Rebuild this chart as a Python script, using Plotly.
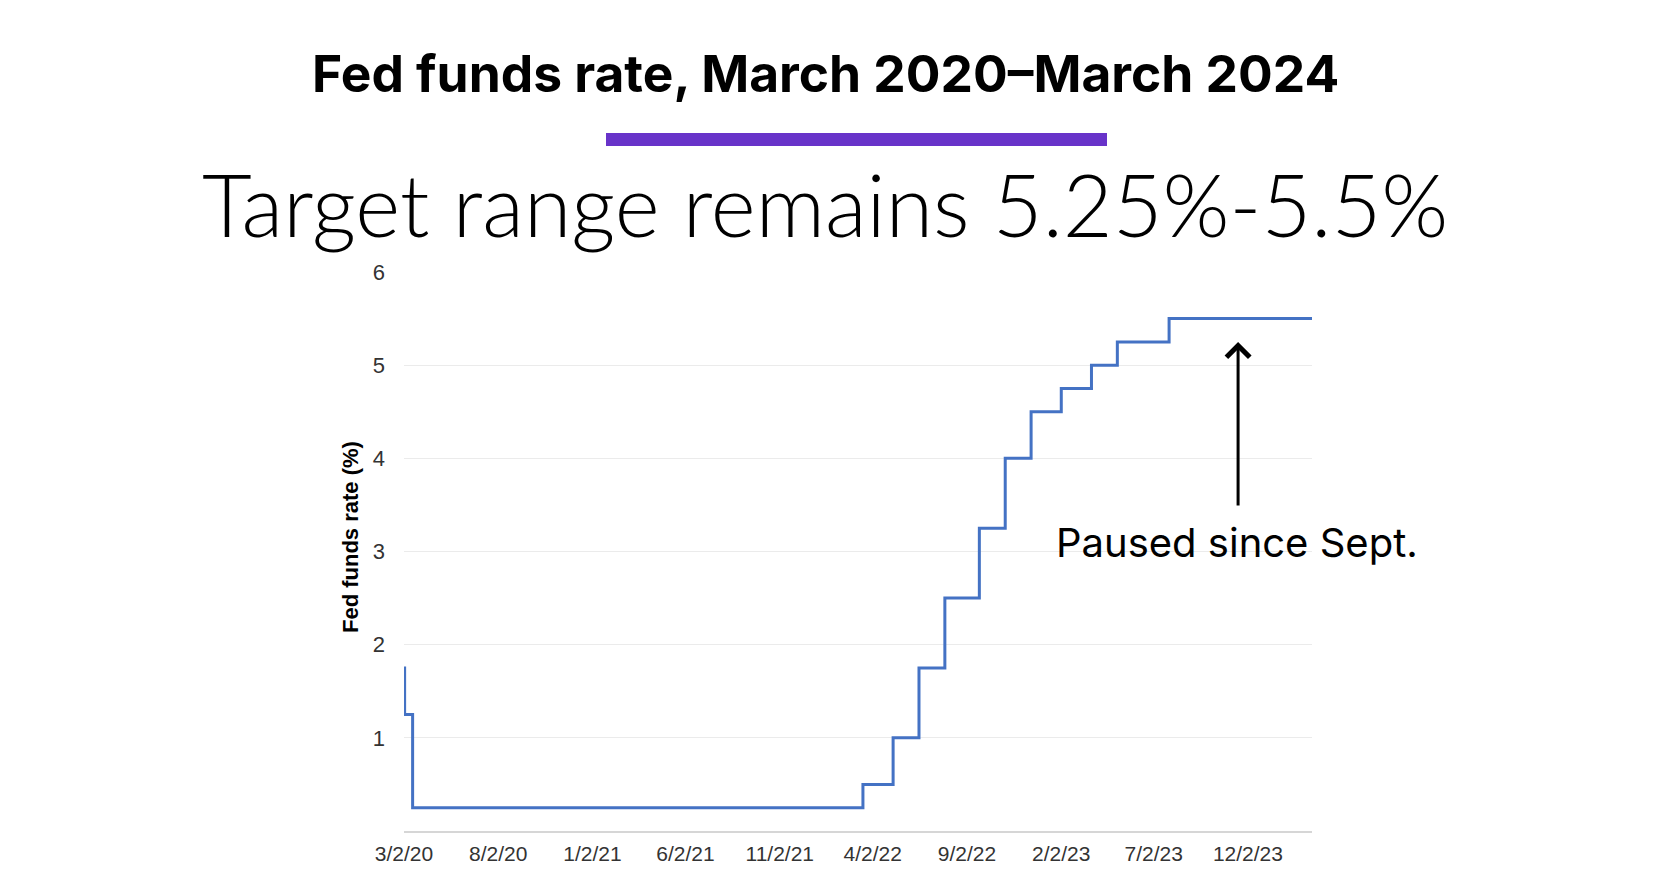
import plotly.graph_objects as go

# Data: Fed funds target range upper bound (%), step changes
dates = ["2020-03-02", "2020-03-03", "2020-03-16", "2022-03-17", "2022-05-05",
         "2022-06-16", "2022-07-28", "2022-09-22", "2022-11-03", "2022-12-15",
         "2023-02-02", "2023-03-23", "2023-05-04", "2023-07-27", "2024-03-15"]
rates = [1.75, 1.25, 0.25, 0.5, 1.0, 1.75, 2.5, 3.25, 4.0, 4.5, 4.75, 5.0, 5.25, 5.5, 5.5]

tick_dates = ["2020-03-02", "2020-08-02", "2021-01-02", "2021-06-02", "2021-11-02",
              "2022-04-02", "2022-09-02", "2023-02-02", "2023-07-02", "2023-12-02"]
tick_labels = ["3/2/20", "8/2/20", "1/2/21", "6/2/21", "11/2/21",
               "4/2/22", "9/2/22", "2/2/23", "7/2/23", "12/2/23"]
y_ticks = [1, 2, 3, 4, 5, 6]

OFF = 8  # browser body margin
W, H = 1668 - 2 * OFF, 872 - 2 * OFF
# plot area in page pixels
L, R, T, B = 404, 1312, 272, 831


def px(x):
    return (x - L) / (R - L)


def py(y):
    return (B - y) / (B - T)


fig = go.Figure()
fig.add_trace(go.Scatter(
    x=dates, y=rates, mode="lines", line=dict(shape="hv", color="#4472C4", width=3),
    hoverinfo="skip", showlegend=False,
))

fig.update_layout(
    width=W, height=H,
    margin=dict(l=L - OFF, r=(1668 - OFF) - R, t=T - OFF, b=(872 - OFF) - B),
    paper_bgcolor="white", plot_bgcolor="white",
    font=dict(family="Liberation Sans, Arial, sans-serif", color="#222222"),
    xaxis=dict(
        range=["2020-03-02", "2024-03-15"], tickvals=tick_dates, ticktext=tick_labels,
        showgrid=False, showline=True, linecolor="#d6d6d6", linewidth=1.5,
        ticks="", ticklabelstandoff=3, tickfont=dict(size=21, color="#333333"),
        zeroline=False, automargin=False,
    ),
    yaxis=dict(
        range=[0, 6], tickvals=y_ticks, showgrid=True, gridcolor="#ebebeb", gridwidth=1,
        ticks="", ticklabelstandoff=18, tickfont=dict(size=22, color="#333333"),
        zeroline=False, showline=False, automargin=False,
    ),
    shapes=[dict(type="rect", xref="paper", yref="paper",
                 x0=px(606), x1=px(1107), y0=py(146), y1=py(133),
                 fillcolor="#6833C9", line=dict(width=0))],
    annotations=[
        dict(text="<b>Fed funds rate, March 2020–March 2024</b>", xref="paper", yref="paper",
             x=px(825), y=py(73), xanchor="center", yanchor="middle", showarrow=False,
             font=dict(family="Inter, sans-serif", size=51.5, color="#000000")),
        dict(text="Target range remains 5.25%-5.5%", xref="paper", yref="paper",
             x=px(825), y=py(203), xanchor="center", yanchor="middle", showarrow=False,
             font=dict(family="Lato, sans-serif", size=86, color="#000000", weight=300)),
        dict(text="<b>Fed funds rate (%)</b>", xref="paper", yref="paper",
             x=px(350), y=py(537), xanchor="center", yanchor="middle", showarrow=False,
             textangle=-90, font=dict(size=22, color="#000000")),
        dict(text="", x="2023-11-16", y=5.25, xref="x", yref="y", showarrow=True,
             ax=0, ay=165, arrowhead=4, arrowsize=1.5, arrowwidth=3, arrowcolor="#000000"),
        dict(text="Paused since Sept.", x="2023-11-15", y=3.10, xref="x", yref="y",
             xanchor="center", yanchor="middle", showarrow=False,
             font=dict(family="Inter, sans-serif", size=40, color="#000000")),
    ],
)

fig.write_html("out.html")
